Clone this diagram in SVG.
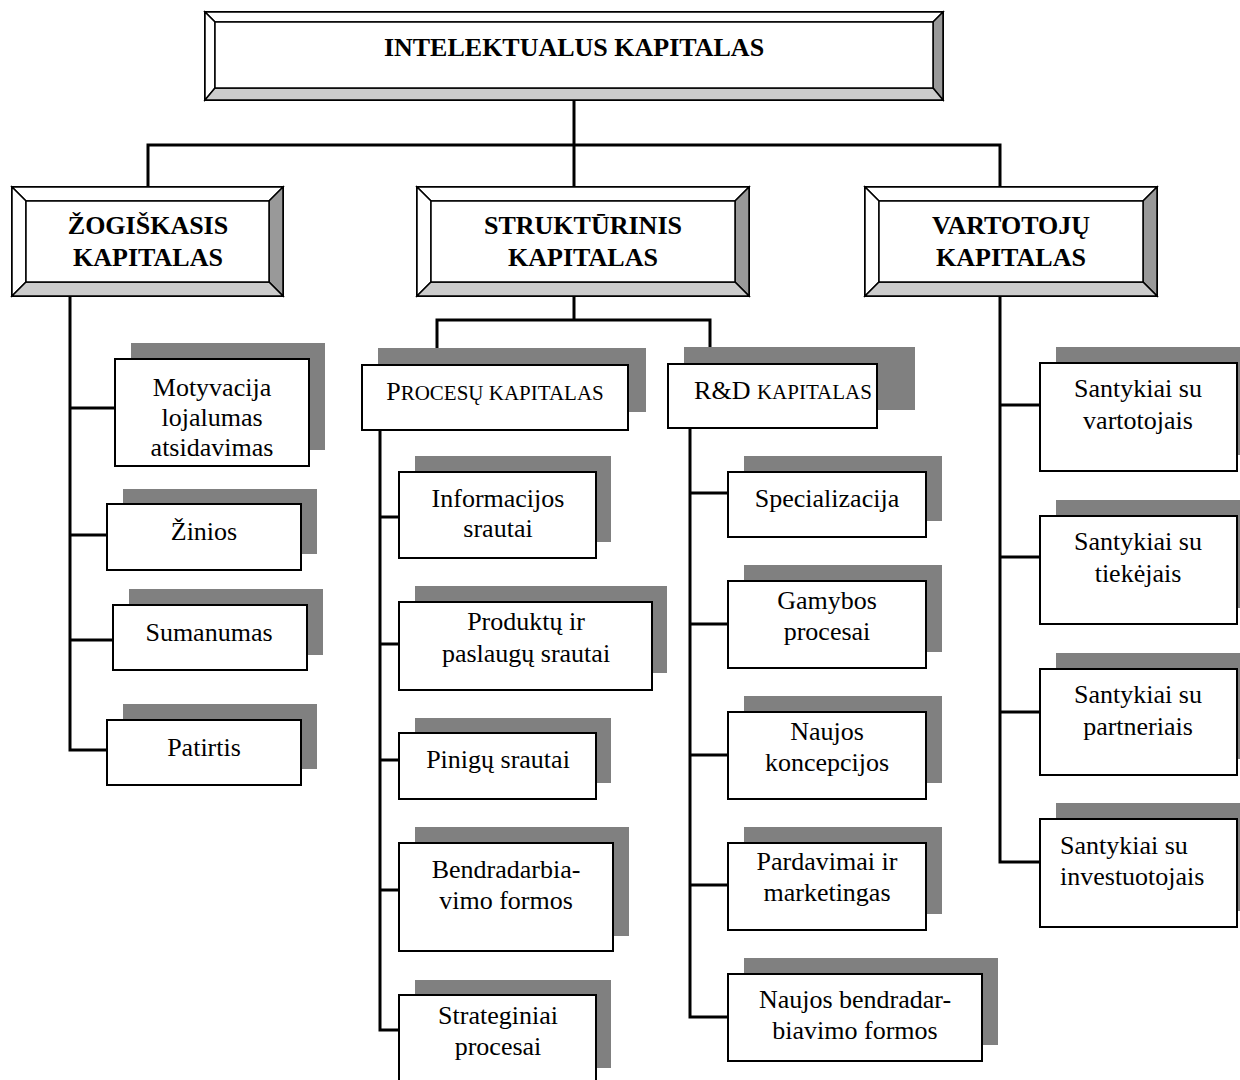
<svg xmlns="http://www.w3.org/2000/svg" width="1240" height="1080" viewBox="0 0 1240 1080">
<style>
.bg{fill:#fff}
.sh{fill:#808080}
.bx{fill:#fff;stroke:#000;stroke-width:2}
.bt{fill:#fff;stroke:#000;stroke-width:1.5}
.br{fill:#999;stroke:#000;stroke-width:1.5}
.bb{fill:#ccc;stroke:#000;stroke-width:1.5}
.ln{fill:none;stroke:#000;stroke-width:3}
.t{font-family:"Liberation Serif","Times New Roman",serif;font-size:26px;fill:#000;text-anchor:middle}
.h{font-family:"Liberation Serif","Times New Roman",serif;font-size:26px;font-weight:bold;fill:#000;text-anchor:middle}
.sc{font-size:21px}
</style>
<rect class="bg" width="1240" height="1080"/>
<g id="connectors">
<path class="ln" d="M574,100 V187"/>
<path class="ln" d="M148,187 V145 H1000 V187"/>
<path class="ln" d="M70,296 V750 H107 M70,408 H115 M70,535 H107 M70,640 H113"/>
<path class="ln" d="M574,296 V320 M437,365 V320 H710 V364"/>
<path class="ln" d="M380,430 V1030 H399 M380,517 H399 M380,644 H399 M380,760 H399 M380,890 H399"/>
<path class="ln" d="M690,428 V1017 H728 M690,493 H728 M690,624 H728 M690,755 H728 M690,885 H728"/>
<path class="ln" d="M1000,296 V862 H1040 M1000,405 H1040 M1000,557 H1040 M1000,712 H1040"/>
</g>
<g id="n-intelektualus">
<rect class="bx" x="205" y="12" width="738" height="88"/>
<polygon class="bt" points="205,12 943,12 933,22 215,22"/>
<polygon class="bt" points="205,12 215,22 215,88 205,100"/>
<polygon class="br" points="943,12 943,100 933,88 933,22"/>
<polygon class="bb" points="205,100 943,100 933,88 215,88"/>
<rect class="bt" x="215" y="22" width="718" height="66"/>
<text class="h" x="574" y="56">INTELEKTUALUS KAPITALAS</text>
</g>
<g id="n-zogiskasis">
<rect class="bx" x="12" y="187" width="271" height="109"/>
<polygon class="bt" points="12,187 283,187 269,201 26,201"/>
<polygon class="bt" points="12,187 26,201 26,282 12,296"/>
<polygon class="br" points="283,187 283,296 269,282 269,201"/>
<polygon class="bb" points="12,296 283,296 269,282 26,282"/>
<rect class="bt" x="26" y="201" width="243" height="81"/>
<text class="h" x="148" y="234">ŽOGIŠKASIS</text>
<text class="h" x="148" y="266">KAPITALAS</text>
</g>
<g id="n-strukturinis">
<rect class="bx" x="417" y="187" width="332" height="109"/>
<polygon class="bt" points="417,187 749,187 735,201 431,201"/>
<polygon class="bt" points="417,187 431,201 431,282 417,296"/>
<polygon class="br" points="749,187 749,296 735,282 735,201"/>
<polygon class="bb" points="417,296 749,296 735,282 431,282"/>
<rect class="bt" x="431" y="201" width="304" height="81"/>
<text class="h" x="583" y="234">STRUKTŪRINIS</text>
<text class="h" x="583" y="266">KAPITALAS</text>
</g>
<g id="n-vartotoju">
<rect class="bx" x="865" y="187" width="292" height="109"/>
<polygon class="bt" points="865,187 1157,187 1143,201 879,201"/>
<polygon class="bt" points="865,187 879,201 879,282 865,296"/>
<polygon class="br" points="1157,187 1157,296 1143,282 1143,201"/>
<polygon class="bb" points="865,296 1157,296 1143,282 879,282"/>
<rect class="bt" x="879" y="201" width="264" height="81"/>
<text class="h" x="1011" y="234">VARTOTOJŲ</text>
<text class="h" x="1011" y="266">KAPITALAS</text>
</g>
<g id="n-motyvacija">
<rect class="sh" x="131" y="343" width="194" height="107"/>
<rect class="bx" x="115" y="359" width="194" height="107"/>
<text class="t" x="212" y="396">Motyvacija</text>
<text class="t" x="212" y="426">lojalumas</text>
<text class="t" x="212" y="456">atsidavimas</text>
</g>
<g id="n-zinios">
<rect class="sh" x="123" y="489" width="194" height="65"/>
<rect class="bx" x="107" y="504" width="194" height="66"/>
<text class="t" x="204" y="540">Žinios</text>
</g>
<g id="n-sumanumas">
<rect class="sh" x="129" y="589" width="194" height="66"/>
<rect class="bx" x="113" y="605" width="194" height="65"/>
<text class="t" x="209" y="641">Sumanumas</text>
</g>
<g id="n-patirtis">
<rect class="sh" x="123" y="704" width="194" height="65"/>
<rect class="bx" x="107" y="720" width="194" height="65"/>
<text class="t" x="204" y="756">Patirtis</text>
</g>
<g id="n-procesu">
<rect class="sh" x="378" y="348" width="268" height="64"/>
<rect class="bx" x="362" y="365" width="266" height="65"/>
<text class="t" x="495" y="400">P<tspan class="sc">ROCESŲ KAPITALAS</tspan></text>
</g>
<g id="n-rd">
<rect class="sh" x="684" y="347" width="231" height="63"/>
<rect class="bx" x="668" y="364" width="209" height="64"/>
<text class="t" x="783" y="399">R&amp;D <tspan class="sc">KAPITALAS</tspan></text>
</g>
<g id="n-informacijos">
<rect class="sh" x="415" y="456" width="196" height="86"/>
<rect class="bx" x="399" y="472" width="197" height="86"/>
<text class="t" x="498" y="507">Informacijos</text>
<text class="t" x="498" y="537">srautai</text>
</g>
<g id="n-produktu">
<rect class="sh" x="415" y="586" width="252" height="87"/>
<rect class="bx" x="399" y="602" width="253" height="88"/>
<text class="t" x="526" y="630">Produktų ir</text>
<text class="t" x="526" y="662">paslaugų srautai</text>
</g>
<g id="n-pinigu">
<rect class="sh" x="415" y="718" width="196" height="65"/>
<rect class="bx" x="399" y="733" width="197" height="66"/>
<text class="t" x="498" y="768">Pinigų srautai</text>
</g>
<g id="n-bendradarbiavimo">
<rect class="sh" x="415" y="827" width="214" height="109"/>
<rect class="bx" x="399" y="843" width="214" height="108"/>
<text class="t" x="506" y="878">Bendradarbia-</text>
<text class="t" x="506" y="909">vimo formos</text>
</g>
<g id="n-strateginiai">
<rect class="sh" x="415" y="980" width="196" height="88"/>
<rect class="bx" x="399" y="995" width="197" height="95"/>
<text class="t" x="498" y="1024">Strateginiai</text>
<text class="t" x="498" y="1055">procesai</text>
</g>
<g id="n-specializacija">
<rect class="sh" x="744" y="456" width="198" height="65"/>
<rect class="bx" x="728" y="472" width="198" height="65"/>
<text class="t" x="827" y="507">Specializacija</text>
</g>
<g id="n-gamybos">
<rect class="sh" x="744" y="565" width="198" height="87"/>
<rect class="bx" x="728" y="581" width="198" height="87"/>
<text class="t" x="827" y="609">Gamybos</text>
<text class="t" x="827" y="640">procesai</text>
</g>
<g id="n-koncepcijos">
<rect class="sh" x="744" y="696" width="198" height="87"/>
<rect class="bx" x="728" y="712" width="198" height="87"/>
<text class="t" x="827" y="740">Naujos</text>
<text class="t" x="827" y="771">koncepcijos</text>
</g>
<g id="n-pardavimai">
<rect class="sh" x="744" y="827" width="198" height="87"/>
<rect class="bx" x="728" y="843" width="198" height="87"/>
<text class="t" x="827" y="870">Pardavimai ir</text>
<text class="t" x="827" y="901">marketingas</text>
</g>
<g id="n-naujos-bendradarbiavimo">
<rect class="sh" x="744" y="958" width="254" height="87"/>
<rect class="bx" x="728" y="974" width="254" height="87"/>
<text class="t" x="855" y="1008">Naujos bendradar-</text>
<text class="t" x="855" y="1039">biavimo formos</text>
</g>
<g id="n-vartotojais">
<rect class="sh" x="1056" y="347" width="190" height="108"/>
<rect class="bx" x="1040" y="363" width="197" height="108"/>
<text class="t" x="1138" y="397">Santykiai su</text>
<text class="t" x="1138" y="429">vartotojais</text>
</g>
<g id="n-tiekejais">
<rect class="sh" x="1056" y="500" width="190" height="108"/>
<rect class="bx" x="1040" y="516" width="197" height="108"/>
<text class="t" x="1138" y="550">Santykiai su</text>
<text class="t" x="1138" y="582">tiekėjais</text>
</g>
<g id="n-partneriais">
<rect class="sh" x="1056" y="653" width="190" height="106"/>
<rect class="bx" x="1040" y="669" width="197" height="106"/>
<text class="t" x="1138" y="703">Santykiai su</text>
<text class="t" x="1138" y="735">partneriais</text>
</g>
<g id="n-investuotojais">
<rect class="sh" x="1056" y="803" width="190" height="108"/>
<rect class="bx" x="1040" y="819" width="197" height="108"/>
<text class="t" x="1060" y="854" style="text-anchor:start">Santykiai su</text>
<text class="t" x="1060" y="885" style="text-anchor:start">investuotojais</text>
</g>
</svg>
